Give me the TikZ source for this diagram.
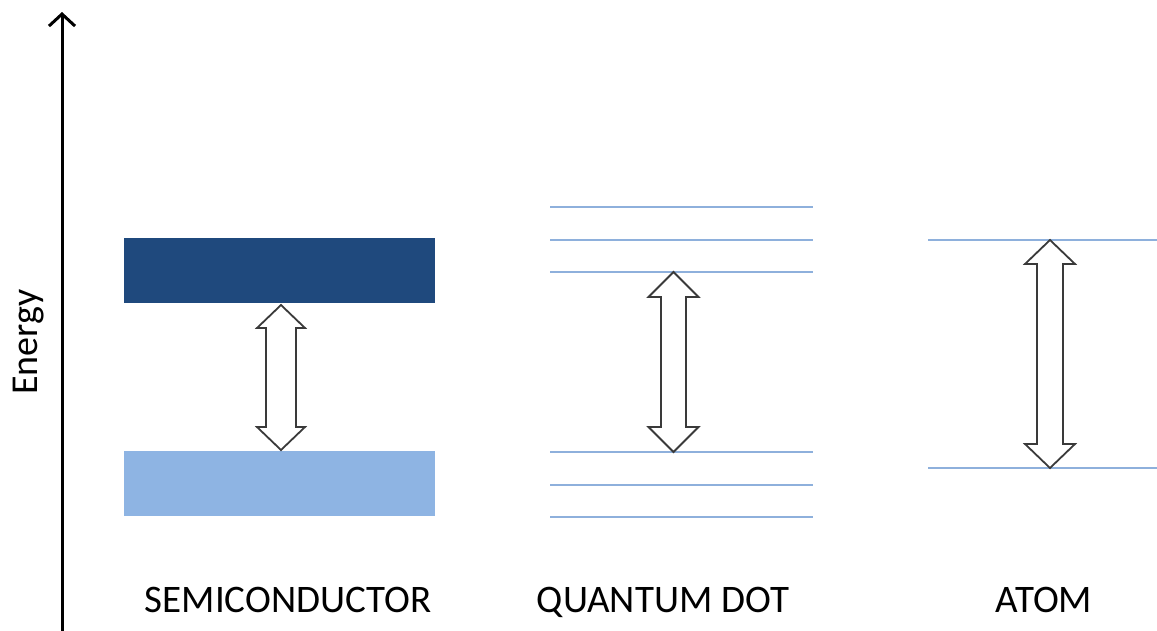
\documentclass[tikz,border=0pt]{standalone}
\usepackage{fontspec}
\setmainfont{Carlito}
\usetikzlibrary{arrows.meta}
\definecolor{cbdark}{HTML}{1F497D}
\definecolor{cblight}{HTML}{8EB4E3}
\definecolor{lvl}{HTML}{8EB0DC}
\definecolor{arrgray}{HTML}{3A3A3A}
\tikzset{
  level/.style={draw=lvl, line width=2.2pt},
  band/.style={draw=none},
  gaparrow/.style={draw=arrgray, fill=white, line width=1.8pt, line join=miter},
  label/.style={font=\fontsize{39}{40}\selectfont, anchor=base},
  axis/.style={line width=3pt, -{Straight Barb[length=12pt,width=26pt,line width=3pt]}}
}
% double arrow: center x, top tip y, bottom tip y, head half-width, shaft half-width, head length
\newcommand\dblarrowshape[6]{%
  \path[gaparrow] (#1,#2) -- (#1+#4,#2+#6) -- (#1+#5,#2+#6) -- (#1+#5,#3-#6) -- (#1+#4,#3-#6)
    -- (#1,#3) -- (#1-#4,#3-#6) -- (#1-#5,#3-#6) -- (#1-#5,#2+#6) -- (#1-#4,#2+#6) -- cycle;}
\begin{document}
\begin{tikzpicture}[x=1pt,y=-1pt]
\useasboundingbox (0,0) rectangle (1157,630);
% axis
\coordinate (axb) at (62,632);
\coordinate (axt) at (62,12);
\draw[axis] (axb) -- (axt);
\node[rotate=90, font=\fontsize{38}{40}\selectfont] (energy) at (29,342) {Energy};
% semiconductor
\fill[cbdark] (124,238) rectangle (435,303);
\fill[cblight] (124,451) rectangle (435,516);
\dblarrowshape{281}{305}{450}{24}{15}{23}
% quantum dot
\foreach \yy in {207,240,272,452,485,517} \draw[level] (550,\yy) -- (813,\yy);
\dblarrowshape{673.5}{272}{452}{25}{12.5}{25}
% atom
\foreach \yy in {240,468} \draw[level] (928,\yy) -- (1157,\yy);
\dblarrowshape{1050}{240}{468}{25}{13}{24}
% labels
\node[label] (lsc) at (288,612) {SEMICONDUCTOR};
\node[label] (lqd) at (663,612) {QUANTUM DOT};
\node[label] (lat) at (1044,612) {ATOM};
\end{tikzpicture}
\end{document}
